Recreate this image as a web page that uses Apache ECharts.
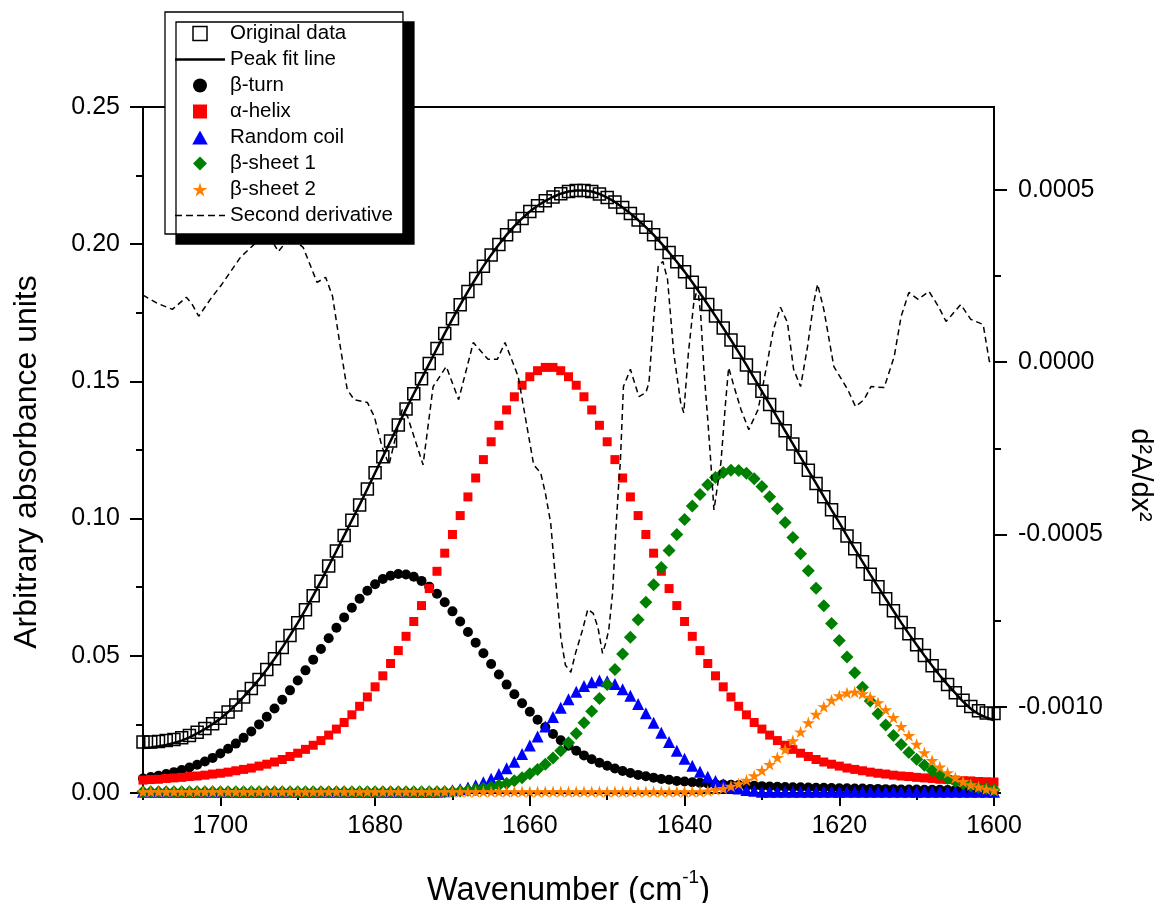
<!DOCTYPE html>
<html><head><meta charset="utf-8">
<script src="https://cdn.jsdelivr.net/npm/echarts@6/dist/echarts.min.js"></script>
<style>html,body{margin:0;padding:0;background:#fff}#c{width:1167px;height:903px}</style>
</head><body><div id="c"></div>
<script>
const wavenumbers = [1710,1709,1708,1707,1706,1705,1704,1703,1702,1701,
1700,1699,1698,1697,1696,1695,1694,1693,1692,1691,
1690,1689,1688,1687,1686,1685,1684,1683,1682,1681,
1680,1679,1678,1677,1676,1675,1674,1673,1672,1671,
1670,1669,1668,1667,1666,1665,1664,1663,1662,1661,
1660,1659,1658,1657,1656,1655,1654,1653,1652,1651,
1650,1649,1648,1647,1646,1645,1644,1643,1642,1641,
1640,1639,1638,1637,1636,1635,1634,1633,1632,1631,
1630,1629,1628,1627,1626,1625,1624,1623,1622,1621,
1620,1619,1618,1617,1616,1615,1614,1613,1612,1611,
1610,1609,1608,1607,1606,1605,1604,1603,1602,1601,
1600];

const originalData = [0.0186,0.0186,0.0188,0.0191,0.0195,0.0201,0.0210,0.0221,0.0235,0.0252,
0.0272,0.0295,0.0321,0.0350,0.0381,0.0414,0.0450,0.0489,0.0530,0.0574,
0.0620,0.0668,0.0719,0.0772,0.0827,0.0882,0.0938,0.0994,0.1050,0.1108,
0.1167,0.1225,0.1283,0.1341,0.1399,0.1455,0.1510,0.1565,0.1620,0.1675,
0.1728,0.1779,0.1828,0.1875,0.1920,0.1961,0.1999,0.2034,0.2066,0.2094,
0.2119,0.2140,0.2158,0.2172,0.2184,0.2192,0.2196,0.2196,0.2192,0.2183,
0.2170,0.2154,0.2134,0.2112,0.2088,0.2062,0.2034,0.2003,0.1970,0.1936,
0.1900,0.1861,0.1821,0.1780,0.1738,0.1695,0.1651,0.1606,0.1560,0.1512,
0.1464,0.1416,0.1368,0.1320,0.1272,0.1224,0.1176,0.1128,0.1080,0.1032,
0.0985,0.0937,0.0890,0.0843,0.0797,0.0752,0.0708,0.0664,0.0621,0.0580,
0.0540,0.0501,0.0464,0.0428,0.0395,0.0365,0.0338,0.0315,0.0300,0.0292,
0.0290];

const peakFit = [0.0164,0.0166,0.0170,0.0175,0.0182,0.0191,0.0203,0.0217,0.0233,0.0251,
0.0271,0.0295,0.0321,0.0350,0.0381,0.0414,0.0450,0.0489,0.0530,0.0574,
0.0620,0.0668,0.0719,0.0772,0.0827,0.0882,0.0938,0.0994,0.1050,0.1108,
0.1167,0.1225,0.1283,0.1341,0.1399,0.1455,0.1510,0.1565,0.1620,0.1675,
0.1728,0.1779,0.1828,0.1875,0.1920,0.1961,0.1999,0.2034,0.2066,0.2094,
0.2119,0.2140,0.2158,0.2172,0.2184,0.2192,0.2196,0.2196,0.2192,0.2183,
0.2170,0.2154,0.2134,0.2112,0.2088,0.2062,0.2034,0.2003,0.1970,0.1936,
0.1900,0.1861,0.1821,0.1780,0.1738,0.1695,0.1651,0.1606,0.1560,0.1512,
0.1464,0.1416,0.1368,0.1320,0.1272,0.1224,0.1176,0.1128,0.1080,0.1032,
0.0985,0.0937,0.0890,0.0843,0.0797,0.0752,0.0708,0.0664,0.0621,0.0580,
0.0540,0.0501,0.0464,0.0428,0.0395,0.0364,0.0333,0.0307,0.0288,0.0275,
0.0265];

const betaTurn = [0.0053,0.0058,0.0063,0.0069,0.0076,0.0084,0.0093,0.0103,0.0115,0.0128,
0.0144,0.0161,0.0180,0.0201,0.0224,0.0250,0.0278,0.0308,0.0340,0.0374,
0.0410,0.0447,0.0486,0.0525,0.0564,0.0602,0.0640,0.0675,0.0708,0.0737,
0.0761,0.0780,0.0792,0.0798,0.0796,0.0788,0.0773,0.0752,0.0726,0.0695,
0.0662,0.0625,0.0587,0.0548,0.0509,0.0470,0.0432,0.0395,0.0360,0.0327,
0.0296,0.0267,0.0240,0.0215,0.0192,0.0172,0.0154,0.0137,0.0123,0.0110,
0.0099,0.0089,0.0080,0.0073,0.0066,0.0061,0.0056,0.0051,0.0048,0.0044,
0.0042,0.0039,0.0037,0.0035,0.0033,0.0031,0.0030,0.0029,0.0027,0.0026,
0.0025,0.0024,0.0023,0.0022,0.0021,0.0021,0.0020,0.0019,0.0019,0.0018,
0.0017,0.0017,0.0016,0.0016,0.0015,0.0015,0.0014,0.0014,0.0013,0.0013,
0.0013,0.0012,0.0012,0.0012,0.0011,0.0011,0.0011,0.0011,0.0010,0.0010,
0.0010];

const alphaHelix = [0.0047,0.0049,0.0050,0.0053,0.0055,0.0057,0.0060,0.0062,0.0065,0.0069,
0.0072,0.0076,0.0081,0.0086,0.0091,0.0098,0.0105,0.0113,0.0122,0.0133,
0.0145,0.0159,0.0174,0.0191,0.0211,0.0233,0.0257,0.0285,0.0316,0.0350,
0.0387,0.0427,0.0472,0.0519,0.0571,0.0625,0.0683,0.0745,0.0808,0.0874,
0.0942,0.1011,0.1079,0.1148,0.1215,0.1280,0.1340,0.1396,0.1444,0.1486,
0.1517,0.1539,0.1551,0.1551,0.1539,0.1517,0.1486,0.1444,0.1396,0.1340,
0.1280,0.1215,0.1148,0.1079,0.1011,0.0942,0.0874,0.0808,0.0745,0.0683,
0.0625,0.0571,0.0519,0.0472,0.0427,0.0387,0.0350,0.0316,0.0285,0.0257,
0.0233,0.0211,0.0191,0.0174,0.0159,0.0145,0.0133,0.0122,0.0113,0.0105,
0.0098,0.0091,0.0086,0.0081,0.0076,0.0072,0.0069,0.0065,0.0062,0.0060,
0.0057,0.0055,0.0053,0.0050,0.0049,0.0047,0.0045,0.0044,0.0042,0.0041,
0.0040];

const randomCoil = [0.0005,0.0005,0.0005,0.0005,0.0005,0.0005,0.0005,0.0005,0.0005,0.0005,
0.0005,0.0005,0.0005,0.0005,0.0005,0.0005,0.0005,0.0005,0.0005,0.0005,
0.0005,0.0005,0.0005,0.0005,0.0005,0.0005,0.0005,0.0005,0.0005,0.0005,
0.0005,0.0005,0.0005,0.0005,0.0005,0.0005,0.0005,0.0005,0.0005,0.0006,
0.0010,0.0014,0.0020,0.0028,0.0039,0.0052,0.0069,0.0090,0.0114,0.0142,
0.0173,0.0206,0.0242,0.0277,0.0311,0.0342,0.0369,0.0390,0.0404,0.0410,
0.0407,0.0397,0.0378,0.0354,0.0324,0.0291,0.0256,0.0220,0.0186,0.0154,
0.0125,0.0099,0.0077,0.0059,0.0044,0.0032,0.0023,0.0016,0.0011,0.0008,
0.0005,0.0005,0.0005,0.0005,0.0005,0.0005,0.0005,0.0005,0.0005,0.0005,
0.0005,0.0005,0.0005,0.0005,0.0005,0.0005,0.0005,0.0005,0.0005,0.0005,
0.0005,0.0005,0.0005,0.0005,0.0005,0.0005,0.0005,0.0005,0.0005,0.0005,
0.0005];

const betaSheet1 = [0.0005,0.0005,0.0005,0.0005,0.0005,0.0005,0.0005,0.0005,0.0005,0.0005,
0.0005,0.0005,0.0005,0.0005,0.0005,0.0005,0.0005,0.0005,0.0005,0.0005,
0.0005,0.0005,0.0005,0.0005,0.0005,0.0005,0.0005,0.0005,0.0005,0.0005,
0.0005,0.0005,0.0005,0.0005,0.0005,0.0005,0.0005,0.0005,0.0005,0.0005,
0.0005,0.0007,0.0010,0.0013,0.0017,0.0022,0.0028,0.0035,0.0045,0.0056,
0.0070,0.0086,0.0105,0.0128,0.0154,0.0183,0.0217,0.0256,0.0298,0.0344,
0.0395,0.0450,0.0507,0.0568,0.0631,0.0695,0.0759,0.0822,0.0884,0.0942,
0.0997,0.1046,0.1088,0.1123,0.1150,0.1168,0.1176,0.1175,0.1165,0.1145,
0.1117,0.1080,0.1036,0.0986,0.0931,0.0872,0.0810,0.0746,0.0682,0.0618,
0.0556,0.0496,0.0438,0.0385,0.0335,0.0289,0.0248,0.0210,0.0177,0.0148,
0.0123,0.0101,0.0082,0.0067,0.0053,0.0043,0.0034,0.0026,0.0020,0.0016,
0.0012];

const betaSheet2 = [0.0005,0.0005,0.0005,0.0005,0.0005,0.0005,0.0005,0.0005,0.0005,0.0005,
0.0005,0.0005,0.0005,0.0005,0.0005,0.0005,0.0005,0.0005,0.0005,0.0005,
0.0005,0.0005,0.0005,0.0005,0.0005,0.0005,0.0005,0.0005,0.0005,0.0005,
0.0005,0.0005,0.0005,0.0005,0.0005,0.0005,0.0005,0.0005,0.0005,0.0005,
0.0005,0.0005,0.0005,0.0005,0.0005,0.0005,0.0005,0.0005,0.0005,0.0005,
0.0005,0.0005,0.0005,0.0005,0.0005,0.0005,0.0005,0.0005,0.0005,0.0005,
0.0005,0.0005,0.0005,0.0005,0.0005,0.0005,0.0005,0.0005,0.0005,0.0005,
0.0005,0.0005,0.0005,0.0008,0.0012,0.0017,0.0025,0.0034,0.0047,0.0063,
0.0082,0.0104,0.0130,0.0159,0.0191,0.0223,0.0256,0.0287,0.0315,0.0338,
0.0355,0.0365,0.0368,0.0362,0.0349,0.0329,0.0304,0.0275,0.0243,0.0210,
0.0178,0.0147,0.0119,0.0095,0.0074,0.0056,0.0042,0.0030,0.0022,0.0015,
0.0010];

const derivWn = [1710.0,1708.1,1706.2,1704.4,1703.7,1702.8,1701.3,1699.8,1697.4,1695.2,
1693.6,1692.5,1691.0,1689.3,1687.5,1686.4,1685.5,1684.5,1683.6,1682.7,
1681.0,1680.1,1679.1,1678.2,1676.5,1675.8,1673.8,1672.5,1670.8,1669.2,
1667.3,1665.4,1664.2,1663.2,1661.5,1659.5,1658.6,1658.0,1657.3,1656.7,
1656.0,1655.4,1654.7,1654.1,1653.2,1652.5,1651.8,1651.2,1650.6,1650.2,
1649.8,1649.3,1648.9,1648.5,1648.3,1647.9,1647.0,1645.9,1645.0,1644.6,
1644.0,1643.4,1642.8,1642.2,1641.4,1640.5,1640.1,1639.5,1638.8,1638.3,
1637.9,1637.5,1637.0,1636.6,1636.2,1635.3,1634.7,1634.3,1633.6,1632.7,
1631.7,1630.5,1629.8,1628.5,1627.6,1626.7,1625.9,1625.0,1624.1,1623.3,
1622.8,1622.0,1620.7,1618.9,1617.9,1616.8,1615.9,1614.2,1612.9,1612.0,
1611.0,1609.8,1608.4,1607.2,1606.2,1605.6,1604.3,1603.0,1601.4,1600.6,
1600.0];

const derivVal = [0.000194,0.000170,0.000153,0.000188,0.000170,0.000133,0.000182,0.000226,0.000304,0.000351,
0.000362,0.000321,0.000362,0.000333,0.000231,0.000246,0.000191,0.000045,-0.000080,-0.000109,
-0.000117,-0.000158,-0.000246,-0.000298,-0.000138,-0.000158,-0.000298,-0.000071,-0.000013,-0.000109,
0.000057,0.000008,0.000008,0.000057,-0.000042,-0.000298,-0.000321,-0.000379,-0.000467,-0.000624,
-0.000798,-0.000879,-0.000900,-0.000845,-0.000778,-0.000717,-0.000729,-0.000769,-0.000845,-0.000816,
-0.000778,-0.000670,-0.000496,-0.000350,-0.000292,-0.000071,-0.000021,-0.000100,-0.000089,-0.000060,
0.000124,0.000278,0.000292,0.000240,0.000027,-0.000118,-0.000147,0.000027,0.000173,0.000217,
0.000133,-0.000021,-0.000167,-0.000292,-0.000429,-0.000292,-0.000118,-0.000016,-0.000071,-0.000138,
-0.000196,-0.000138,-0.000060,0.000095,0.000159,0.000115,-0.000021,-0.000071,0.000045,0.000173,
0.000226,0.000153,-0.000013,-0.000080,-0.000129,-0.000109,-0.000071,-0.000074,0.000016,0.000133,
0.000202,0.000182,0.000205,0.000162,0.000118,0.000133,0.000167,0.000124,0.000109,0.000002,
-0.000007];

const xMajorTicks = [1600,1620,1640,1660,1680,1700];
const xMinorTicks = [1610,1630,1650,1670,1690,1710];
const rightMajorTicks = [-0.001,-0.0005,0,0.0005];
const rightMinorTicks = [-0.00125,-0.00075,-0.00025,0.00025];

const FONT = 'Liberation Sans';
const starPath = 'path://M50,0 L61,35 L98,35 L68,57 L79,91 L50,70 L21,91 L32,57 L2,35 L39,35 Z';
const squarePath = 'path://M0,0H10V10H0Z';
const circlePath = 'path://M5,0A5,5,0,1,1,5,10A5,5,0,1,1,5,0Z';
const trianglePath = 'path://M5,0L10,9H0Z';
const diamondPath = 'path://M5,0L10,5L5,10L0,5Z';
const pairs = arr => wavenumbers.map((w, i) => [w, arr[i]]);

const axisLineStyle = {color: '#000', width: 2};
const chart = echarts.init(document.getElementById('c'), null, {renderer: 'canvas'});
chart.setOption({
  animation: false,
  backgroundColor: '#fff',
  textStyle: {fontFamily: FONT, color: '#000'},
  grid: {left: 143, right: 173, top: 107, bottom: 110, show: true, borderColor: '#000', borderWidth: 2, backgroundColor: 'transparent', outerBoundsMode: 'none'},
  legend: {
    orient: 'vertical', left: 165, top: 12,
    padding: [11, 10, 8, 10],
    itemWidth: 50, itemHeight: 14, itemGap: 5,
    symbolKeepAspect: true,
    backgroundColor: '#fff', borderColor: '#000', borderWidth: 1.3,
    shadowColor: '#000', shadowBlur: 0, shadowOffsetX: 11, shadowOffsetY: 10,
    selectedMode: false,
    textStyle: {fontFamily: FONT, fontSize: 20.5, color: '#000', lineHeight: 21},
    data: [
      {name: 'Original data', icon: squarePath, itemStyle: {color: '#fff', borderColor: '#000', borderWidth: 1.5, opacity: 1}},
      {name: 'Peak fit line', icon: 'path://M0,0H50V2.5H0Z'},
      {name: 'β-turn', icon: circlePath},
      {name: 'α-helix', icon: squarePath},
      {name: 'Random coil', icon: trianglePath},
      {name: 'β-sheet 1', icon: diamondPath},
      {name: 'β-sheet 2', icon: starPath},
      {name: 'Second derivative', icon: 'path://M0,0H7V1.5H0ZM11,0H18V1.5H11ZM22,0H29V1.5H22ZM33,0H40V1.5H33ZM44,0H50V1.5H44Z'}
    ]
  },
  xAxis: [{
    type: 'value', inverse: true, min: 1600, max: 1710, position: 'bottom',
    name: '{a|Wavenumber (cm}{s|-1}{a|)}', nameLocation: 'middle', nameGap: 75,
    nameTextStyle: {rich: {
      a: {fontFamily: FONT, fontSize: 32.5, color: '#000', lineHeight: 40, verticalAlign: 'bottom'},
      s: {fontFamily: FONT, fontSize: 19, color: '#000', lineHeight: 19, verticalAlign: 'top'}
    }},
    axisLine: {show: true, onZero: false, lineStyle: axisLineStyle},
    axisTick: {show: true, inside: false, length: 13, lineStyle: axisLineStyle, customValues: xMajorTicks},
    axisLabel: {show: true, customValues: xMajorTicks, fontFamily: FONT, fontSize: 25, color: '#000', margin: 21, formatter: v => String(v)},
    splitLine: {show: false}
  }, {
    type: 'value', inverse: true, min: 1600, max: 1710, position: 'bottom',
    axisLine: {show: false},
    axisTick: {show: true, inside: false, length: 7, lineStyle: axisLineStyle, customValues: xMinorTicks},
    axisLabel: {show: false},
    splitLine: {show: false}
  }],
  yAxis: [{
    type: 'value', min: 0, max: 0.25, interval: 0.05, position: 'left',
    name: 'Arbitrary absorbance units', nameLocation: 'middle', nameGap: 100,
    nameTextStyle: {fontFamily: FONT, fontSize: 32, color: '#000', padding: [0, 24, 0, 0]},
    axisLine: {show: true, onZero: false, lineStyle: axisLineStyle},
    axisTick: {show: true, inside: false, length: 13, lineStyle: axisLineStyle},
    minorTick: {show: true, splitNumber: 2, length: 7, lineStyle: axisLineStyle},
    axisLabel: {fontFamily: FONT, fontSize: 25, color: '#000', margin: 23, formatter: v => v.toFixed(2)},
    splitLine: {show: false}, minorSplitLine: {show: false}
  }, {
    type: 'value', min: -0.00125, max: 0.00074, position: 'right',
    name: 'd²A/dx²', nameLocation: 'middle', nameGap: 131, nameRotate: -90,
    nameTextStyle: {fontFamily: FONT, fontSize: 29, color: '#000', padding: [0, 0, 0, 50]},
    axisLine: {show: true, onZero: false, lineStyle: axisLineStyle},
    axisTick: {show: true, inside: false, length: 13, lineStyle: axisLineStyle, customValues: rightMajorTicks},
    axisLabel: {customValues: rightMajorTicks, fontFamily: FONT, fontSize: 25, color: '#000', margin: 24, formatter: v => v.toFixed(4)},
    splitLine: {show: false}
  }, {
    type: 'value', min: -0.00125, max: 0.00074, position: 'right',
    axisLine: {show: false},
    axisTick: {show: true, inside: false, length: 7, lineStyle: axisLineStyle, customValues: rightMinorTicks},
    axisLabel: {show: false},
    splitLine: {show: false}
  }],
  series: [
    {name: 'β-turn', type: 'scatter', data: pairs(betaTurn), symbol: 'circle', symbolSize: 10, itemStyle: {color: '#000000', opacity: 1}, silent: true},
    {name: 'α-helix', type: 'scatter', data: pairs(alphaHelix), symbol: 'rect', symbolSize: 9, itemStyle: {color: '#ff0000', opacity: 1}, silent: true},
    {name: 'Random coil', type: 'scatter', data: pairs(randomCoil), symbol: 'triangle', symbolSize: 12, itemStyle: {color: '#0000ff', opacity: 1}, silent: true},
    {name: 'β-sheet 1', type: 'scatter', data: pairs(betaSheet1), symbol: 'diamond', symbolSize: 13, itemStyle: {color: '#008000', opacity: 1}, silent: true},
    {name: 'β-sheet 2', type: 'scatter', data: pairs(betaSheet2), symbol: starPath, symbolSize: 13, symbolKeepAspect: true, itemStyle: {color: '#ff8000', opacity: 1}, silent: true},
    {name: 'Original data', type: 'scatter', data: pairs(originalData), symbol: 'rect', symbolSize: 12, itemStyle: {color: 'rgba(255,255,255,0)', borderColor: '#000', borderWidth: 1.5, opacity: 1}, silent: true},
    {name: 'Peak fit line', type: 'line', data: pairs(peakFit), symbol: 'none', showSymbol: false, lineStyle: {color: '#000', width: 2.5}, itemStyle: {color: '#000'}, silent: true},
    {name: 'Second derivative', type: 'line', xAxisIndex: 0, yAxisIndex: 1, data: derivWn.map((w, i) => [w, derivVal[i]]), symbol: 'none', showSymbol: false, lineStyle: {color: '#000', width: 1.5, type: [6, 4]}, itemStyle: {color: '#000'}, silent: true}
  ]
});
</script>
</body></html>
